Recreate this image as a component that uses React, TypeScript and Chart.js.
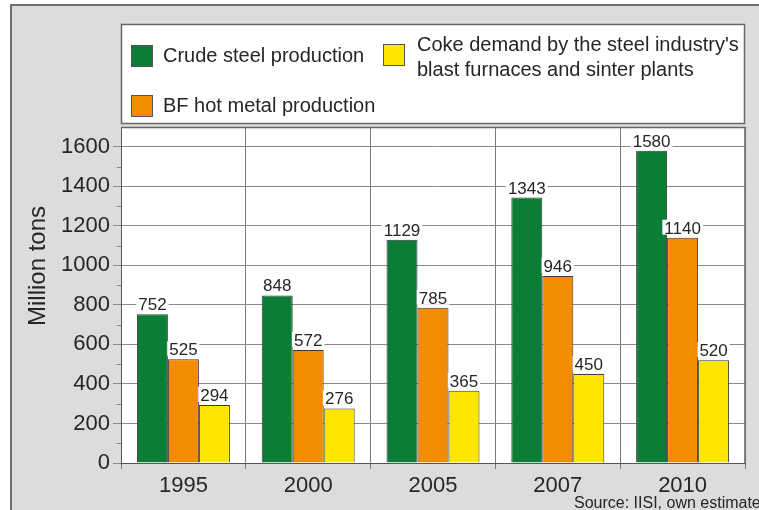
import React, { useEffect, useRef } from 'react';
import { Chart, registerables } from 'chart.js';

Chart.register(...registerables);

const categories = ['1995', '2000', '2005', '2007', '2010'];
const crudeSteel = [752, 848, 1129, 1343, 1580];
const bfHotMetal = [525, 572, 785, 946, 1140];
const cokeDemand = [294, 276, 365, 450, 520];
const yTicks = [0, 200, 400, 600, 800, 1000, 1200, 1400, 1600];
const minorTicks = [100, 300, 500, 700, 900, 1100, 1300, 1500];
const seriesNames = ['Crude steel production', 'BF hot metal production', "Coke demand by the steel industry's blast furnaces and sinter plants"];
const legendLines = [['Crude steel production'], ['BF hot metal production'], ["Coke demand by the steel industry's", 'blast furnaces and sinter plants']];
const seriesColors = ['#0b7d35', '#f28c00', '#ffe600'];
const yTitle = 'Million tons';
const sourceText = 'Source: IISI, own estimates';

const FONT = "'Liberation Sans', Arial, Helvetica, sans-serif";
const TEXT = '#262626';

const decor = {
  id: 'decor',
  beforeDraw(chart: any) {
    const ctx = chart.ctx;
    const { width, height } = chart;
    const a = chart.chartArea;
    ctx.save();
    ctx.fillStyle = '#ffffff';
    ctx.fillRect(0, 0, width, height);
    ctx.fillStyle = '#dcdcdc';
    ctx.fillRect(11, 5, width, height);
    ctx.strokeStyle = '#6e6e6e';
    ctx.lineWidth = 2;
    ctx.strokeRect(11, 5, width + 20, height + 20);
    // legend box
    ctx.fillStyle = '#ffffff';
    ctx.fillRect(a.left, 24, a.right - a.left, 99);
    ctx.strokeStyle = '#666';
    ctx.lineWidth = 1.5;
    ctx.strokeRect(a.left + 0.5, 24.5, a.right - a.left - 1, 99);
    // plot area
    ctx.fillStyle = '#ffffff';
    ctx.fillRect(a.left, a.top, a.right - a.left, a.bottom - a.top);
    ctx.restore();
  },
  afterDatasetsDraw(chart: any) {
    const ctx = chart.ctx;
    ctx.save();
    ctx.font = `17px ${FONT}`;
    ctx.textAlign = 'center';
    ctx.textBaseline = 'alphabetic';
    chart.data.datasets.forEach((ds: any, i: number) => {
      const meta = chart.getDatasetMeta(i);
      meta.data.forEach((bar: any, j: number) => {
        const txt = String(ds.data[j]);
        const w = ctx.measureText(txt).width;
        const base = bar.y - 4;
        ctx.fillStyle = '#ffffff';
        ctx.fillRect(bar.x - w / 2 - 2, base - 14, w + 4, 15);
        ctx.fillStyle = TEXT;
        ctx.fillText(txt, bar.x, base);
      });
    });
    ctx.restore();
  },
  afterDraw(chart: any) {
    const ctx = chart.ctx;
    const a = chart.chartArea;
    const ys = chart.scales.y;
    ctx.save();
    // plot border
    ctx.strokeStyle = '#666';
    ctx.lineWidth = 1.5;
    ctx.beginPath();
    ctx.moveTo(a.left, a.top + 0.5);
    ctx.lineTo(a.right, a.top + 0.5);
    ctx.lineTo(a.right, a.bottom);
    ctx.stroke();
    // minor ticks
    ctx.strokeStyle = '#888';
    ctx.lineWidth = 1;
    minorTicks.forEach((v) => {
      const py = Math.round(ys.getPixelForValue(v)) + 0.5;
      ctx.beginPath();
      ctx.moveTo(a.left - 4, py);
      ctx.lineTo(a.left, py);
      ctx.stroke();
    });
    // legend
    const items = [
      { x: 131, y: 45, tx: 163, ty: [56] },
      { x: 131, y: 95, tx: 163, ty: [106] },
      { x: 383, y: 44, tx: 417, ty: [45, 70] },
    ];
    ctx.font = `20px ${FONT}`;
    ctx.textAlign = 'left';
    ctx.textBaseline = 'middle';
    items.forEach((it, i) => {
      ctx.fillStyle = seriesColors[i];
      ctx.fillRect(it.x, it.y, 22, 22);
      ctx.strokeStyle = '#555';
      ctx.lineWidth = 1;
      ctx.strokeRect(it.x + 0.5, it.y + 0.5, 21, 21);
      ctx.fillStyle = TEXT;
      legendLines[i].forEach((line, k) => ctx.fillText(line, it.tx, it.ty[k]));
    });
    // y title
    ctx.save();
    ctx.translate(38, 266);
    ctx.rotate(-Math.PI / 2);
    ctx.font = `24px ${FONT}`;
    ctx.textAlign = 'center';
    ctx.textBaseline = 'middle';
    ctx.fillStyle = TEXT;
    ctx.fillText(yTitle, 0, 0);
    ctx.restore();
    // source
    ctx.font = `16px ${FONT}`;
    ctx.textAlign = 'left';
    ctx.textBaseline = 'middle';
    ctx.fillStyle = TEXT;
    ctx.fillText(sourceText, 574, 504);
    ctx.restore();
  },
};

export default function App() {
  const ref = useRef<HTMLCanvasElement>(null);
  useEffect(() => {
    if (!ref.current) return;
    const chart = new Chart(ref.current, {
      type: 'bar',
      data: {
        labels: categories,
        datasets: [
          { label: seriesNames[0], data: crudeSteel, backgroundColor: seriesColors[0] },
          { label: seriesNames[1], data: bfHotMetal, backgroundColor: seriesColors[1] },
          { label: seriesNames[2], data: cokeDemand, backgroundColor: seriesColors[2] },
        ].map((d) => ({ ...d, borderColor: '#3a3a3a', borderWidth: 1, categoryPercentage: 0.745, barPercentage: 1 })),
      },
      options: {
        animation: false,
        responsive: false,
        maintainAspectRatio: false,
        layout: { padding: { left: 0, right: 14, top: 127, bottom: 0 } },
        plugins: { legend: { display: false }, tooltip: { enabled: false } },
        scales: {
          x: {
            afterFit: (s: any) => { s.height = 47; },
            grid: { offset: true, color: '#7a7a7a', lineWidth: 1, tickLength: 6 },
            border: { color: '#555', width: 1 },
            ticks: { color: TEXT, font: { family: FONT, size: 22 }, padding: 4 },
          },
          y: {
            min: 0,
            max: 1700,
            afterFit: (s: any) => { s.width = 121; },
            afterBuildTicks: (s: any) => { s.ticks = yTicks.map((v) => ({ value: v })); },
            grid: { color: '#8a8a8a', lineWidth: 1, tickLength: 8 },
            border: { color: '#555', width: 1 },
            ticks: { color: TEXT, font: { family: FONT, size: 22 }, padding: 3, callback: (v: any) => String(v) },
          },
        },
      },
      plugins: [decor],
    });
    return () => chart.destroy();
  }, []);
  return (
    <div style={{ position: 'absolute', left: 0, top: 0, width: 759, height: 510 }}>
      <canvas ref={ref} width={759} height={510} style={{ width: 759, height: 510, display: 'block' }} />
    </div>
  );
}
